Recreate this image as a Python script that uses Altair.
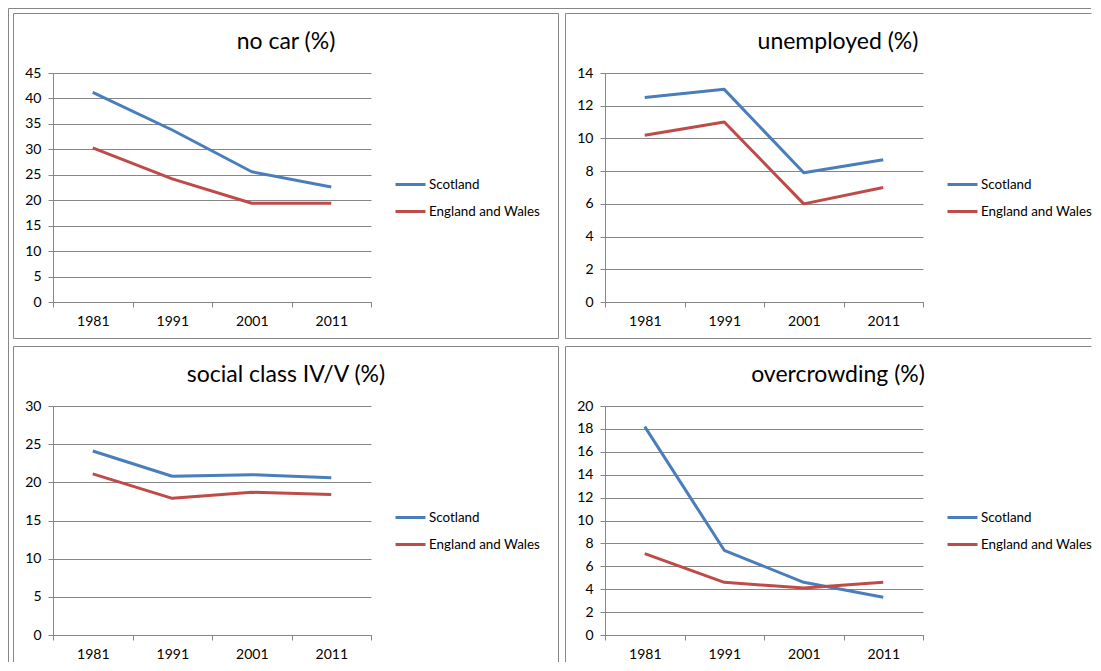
import altair as alt
import pandas as pd

years = ["1981", "1991", "2001", "2011"]
series = ["Scotland", "England and Wales"]
colors = ["#4A7EBB", "#BE4B48"]

titles = ["no car (%)", "unemployed (%)", "social class IV/V (%)", "overcrowding (%)"]

no_car_scotland = [41.2, 33.8, 25.6, 22.6]
no_car_ew = [30.3, 24.2, 19.4, 19.4]
unemployed_scotland = [12.5, 13.0, 7.9, 8.7]
unemployed_ew = [10.2, 11.0, 6.0, 7.0]
social_scotland = [24.1, 20.8, 21.0, 20.6]
social_ew = [21.1, 17.9, 18.7, 18.4]
overcrowd_scotland = [18.2, 7.4, 4.6, 3.3]
overcrowd_ew = [7.1, 4.6, 4.1, 4.6]

y_ticks = [
    [0, 5, 10, 15, 20, 25, 30, 35, 40, 45],
    [0, 2, 4, 6, 8, 10, 12, 14],
    [0, 5, 10, 15, 20, 25, 30],
    [0, 2, 4, 6, 8, 10, 12, 14, 16, 18, 20],
]

FONT = "Lato"
GREY = "#868686"
W, H = 318, 229


def rule(x, y, x2=None, y2=None):
    one = pd.DataFrame({"k": [0]})
    enc = {"x": alt.value(x), "y": alt.value(y)}
    if x2 is not None:
        enc["x2"] = alt.value(x2)
    if y2 is not None:
        enc["y2"] = alt.value(y2)
    return alt.Chart(one).mark_rule(color=GREY, strokeWidth=1).encode(**enc)


def panel(title, scot, ew, ticks, right_col=False, bottom_row=False,
          outer_left=False, outer_top=False):
    df = pd.DataFrame({
        "year": years + years,
        "series": [series[0]] * 4 + [series[1]] * 4,
        "value": scot + ew,
    })
    one = pd.DataFrame({"k": [0]})

    lines = alt.Chart(df).mark_line(strokeWidth=3, strokeJoin="round").encode(
        x=alt.X("year:O",
                scale=alt.Scale(type="band", paddingInner=0, paddingOuter=0),
                axis=alt.Axis(title=None, labelAngle=0, grid=False, tickBand="extent",
                              tickSize=5, labelPadding=7, domainColor=GREY,
                              tickColor=GREY, labelFont=FONT, labelFontSize=14,
                              labelColor="#000")),
        y=alt.Y("value:Q",
                scale=alt.Scale(domain=[ticks[0], ticks[-1]], nice=False, zero=True),
                axis=alt.Axis(title=None, values=ticks, grid=True, gridColor=GREY,
                              domainColor=GREY, tickColor=GREY, tickSize=5,
                              labelPadding=7, labelFont=FONT, labelFontSize=14,
                              labelColor="#000")),
        color=alt.Color("series:N",
                        scale=alt.Scale(domain=series, range=colors),
                        legend=alt.Legend(title=None, orient="none", legendX=346,
                                          legendY=100, symbolType="M-1.5,0H1.5",
                                          symbolSize=400, symbolStrokeWidth=3,
                                          labelFont=FONT, labelFontSize=13.4,
                                          labelColor="#000", labelOffset=7,
                                          padding=0, rowPadding=9)),
    )

    left, top = -39.5, -59.5
    right = 486.5 if right_col else 505.5
    bottom = 256 if bottom_row else 265.5
    borders = [rule(left, top, y2=bottom), rule(left, top, x2=right)]
    if not right_col:
        borders.append(rule(right, top, y2=bottom))
    if not bottom_row:
        borders.append(rule(left, bottom, x2=right))

    head = alt.Chart(one).mark_text(font=FONT, fontSize=23, color="#000",
                                    align="center", baseline="middle").encode(
        x=alt.value(233), y=alt.value(-31), text=alt.value(title)
    )

    layers = borders + [lines, head]
    if outer_left:
        layers.append(rule(-44.5, -64.5, y2=589))
    if outer_top:
        layers.append(rule(-44.5, -64.5, x2=1038))
    return alt.layer(*layers).properties(width=W, height=H)


p1 = panel(titles[0], no_car_scotland, no_car_ew, y_ticks[0], outer_left=True, outer_top=True)
p2 = panel(titles[1], unemployed_scotland, unemployed_ew, y_ticks[1], right_col=True)
p3 = panel(titles[2], social_scotland, social_ew, y_ticks[2], bottom_row=True)
p4 = panel(titles[3], overcrowd_scotland, overcrowd_ew, y_ticks[3], right_col=True, bottom_row=True)

chart = alt.concat(
    p1, p2, p3, p4, columns=2, bounds="flush",
    spacing=alt.RowColnumber(row=104, column=234),
).resolve_scale(
    x="independent", y="independent", color="independent"
).resolve_legend(color="independent").resolve_axis(
    x="independent", y="independent"
).properties(padding=0).configure_view(strokeWidth=0)

chart.save("out.html", embed_options={"renderer": "svg", "actions": False})
